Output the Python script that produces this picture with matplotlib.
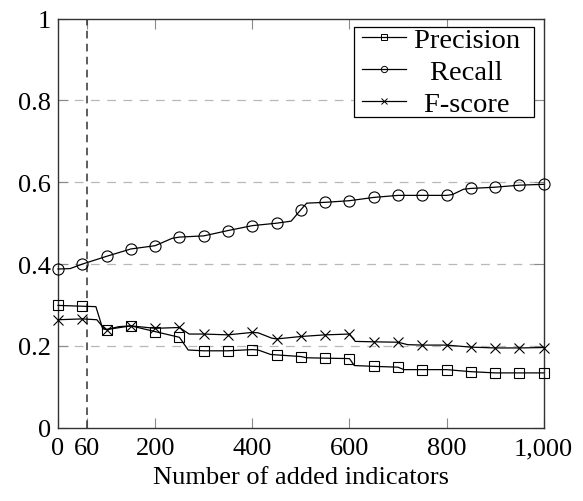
import matplotlib
matplotlib.use('Agg')
import matplotlib.pyplot as plt
from matplotlib.lines import Line2D
from matplotlib.legend_handler import HandlerLine2D

# values (knots between marks keep the step shapes)
prec_x = [0, 50, 78, 92, 100, 125, 150, 200, 250, 268, 300, 350, 400, 412, 438, 450,
          500, 512, 550, 600, 610, 650, 700, 712, 750, 800, 850, 900, 950, 1000]
prec_y = [0.299, 0.297, 0.296, 0.242, 0.240, 0.247, 0.249, 0.235, 0.221, 0.190, 0.188,
          0.188, 0.191, 0.190, 0.179, 0.178, 0.174, 0.171, 0.170, 0.169, 0.152, 0.150,
          0.148, 0.142, 0.142, 0.142, 0.137, 0.134, 0.134, 0.134]

rec_x = [0, 25, 50, 100, 150, 200, 235, 250, 300, 350, 400, 450, 480, 500, 512, 550,
         600, 650, 700, 750, 800, 812, 835, 850, 900, 950, 1000]
rec_y = [0.388, 0.389, 0.400, 0.419, 0.437, 0.445, 0.463, 0.466, 0.469, 0.482, 0.494,
         0.500, 0.505, 0.533, 0.549, 0.551, 0.555, 0.563, 0.568, 0.568, 0.568, 0.570,
         0.583, 0.585, 0.588, 0.593, 0.595]

f_x = [0, 50, 80, 95, 100, 150, 200, 250, 270, 300, 350, 400, 412, 440, 450, 500, 550,
       600, 612, 650, 700, 720, 750, 800, 850, 900, 950, 1000]
f_y = [0.264, 0.266, 0.264, 0.242, 0.240, 0.249, 0.243, 0.245, 0.229, 0.229, 0.227,
       0.233, 0.232, 0.219, 0.217, 0.223, 0.227, 0.229, 0.211, 0.210, 0.209, 0.203,
       0.202, 0.202, 0.197, 0.195, 0.195, 0.196]

labels = ['Precision', 'Recall', 'F-score']
x_ticks = [0, 60, 200, 400, 600, 800, 1000]
x_tick_labels = ['0', '60', '200', '400', '600', '800', '1,000']
y_ticks = [0, 0.2, 0.4, 0.6, 0.8, 1.0]
y_tick_labels = ['0', '0.2', '0.4', '0.6', '0.8', '1']
cutoff = 60

plt.rcParams['font.family'] = ['Liberation Serif', 'DejaVu Serif']
plt.rcParams['font.size'] = 19

fig = plt.figure(figsize=(5.83, 5.02), dpi=100)
ax = fig.add_axes([0.0995, 0.146, 0.8331, 0.8148])


def marks(xs):
    # marks only every 50 units
    return [i for i, v in enumerate(xs) if v % 50 == 0]


for y in y_ticks[1:-1]:
    ax.axhline(y, color='#b8b8b8', lw=0.9, dashes=(7, 6), zorder=1)
ax.axvline(cutoff, color='#333333', lw=1.1, dashes=(5, 3.5), zorder=2)

style = dict(color='black', lw=0.9, markerfacecolor='none', markeredgecolor='black',
             markeredgewidth=0.8, clip_on=False, zorder=3)
ax.plot(prec_x, prec_y, marker='s', markersize=7.5, markevery=marks(prec_x), **style)
ax.plot(rec_x, rec_y, marker='o', markersize=8, markevery=marks(rec_x), **style)
ax.plot(f_x, f_y, marker='x', markersize=6.5, markevery=marks(f_x), **style)

ax.set_xlim(0, 1000)
ax.set_ylim(0, 1)
ax.set_xticks(x_ticks)
ax.set_xticklabels(x_tick_labels)
ax.set_yticks(y_ticks)
ax.set_yticklabels(y_tick_labels)
ax.tick_params(direction='in', length=7, width=0.8, color='#8a8a8a',
               top=True, right=True, pad=5)
ax.tick_params(axis='x', pad=7)
for s in ax.spines.values():
    s.set_linewidth(1.0)
    s.set_color('#333333')

ax.set_xlabel('Number of added indicators', labelpad=5)

handles = [
    Line2D([], [], color='black', lw=0.9, marker='s', markersize=4, markerfacecolor='none', markeredgewidth=0.7),
    Line2D([], [], color='black', lw=0.9, marker='o', markersize=4.5, markerfacecolor='none', markeredgewidth=0.7),
    Line2D([], [], color='black', lw=0.9, marker='x', markersize=4, markeredgewidth=0.7),
]
hmap = {h: HandlerLine2D(xpad=0.28) for h in handles}
leg = ax.legend(handles, [l + '  ' for l in labels], loc='upper right',
                bbox_to_anchor=(0.98, 0.979), borderaxespad=0, fancybox=False,
                edgecolor='black', framealpha=1, handlelength=1.86, handletextpad=0.25,
                borderpad=0.0, labelspacing=0.21, fontsize=20.5, handler_map=hmap)
leg.get_frame().set_linewidth(0.9)

# centre the legend labels like pgfplots does
fig.canvas.draw()
r = fig.canvas.get_renderer()
widths = [t.get_window_extent(r).width for t in leg.get_texts()]
for t, w in zip(leg.get_texts(), widths):
    t.set_x((max(widths) - w) / 2)

fig.savefig('out.png', dpi=100)
